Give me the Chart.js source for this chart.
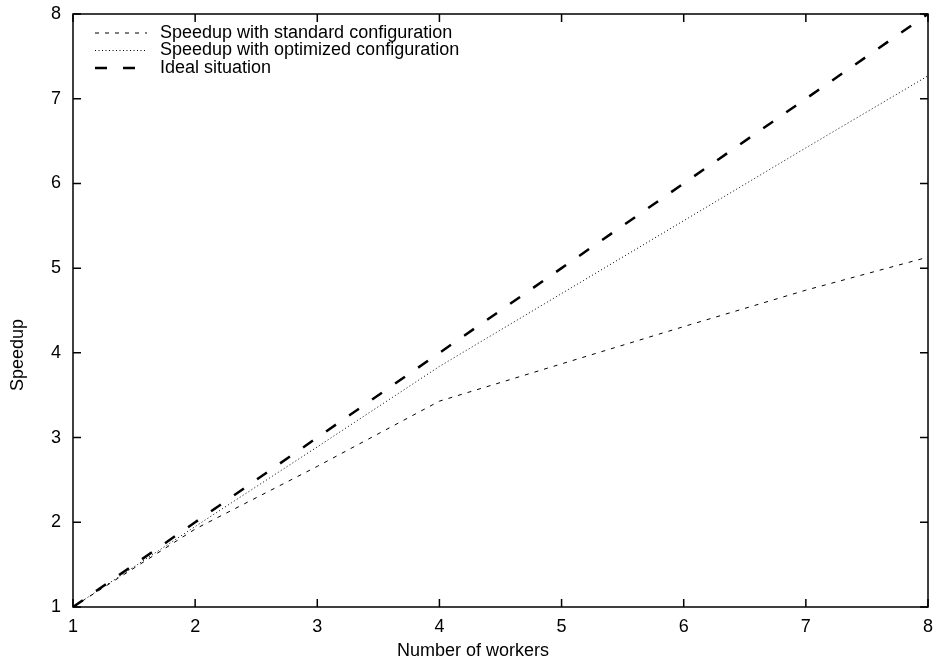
<!DOCTYPE html>
<html>
<head>
<meta charset="utf-8">
<script src="https://cdn.jsdelivr.net/npm/chart.js@4/dist/chart.umd.min.js"></script>
<style>
  html, body { margin: 0; padding: 0; background: #fff; }
  #wrap { width: 941px; height: 666px; }
</style>
</head>
<body>
<div id="wrap"><canvas id="speedupChart"></canvas></div>
<script>
// Datos
const workers = [1, 2, 3, 4, 5, 6, 7, 8];
const speedupStandard = [1, 1.92, 2.66, 3.43, 3.87, 4.31, 4.74, 5.13];
const speedupOptimized = [1, 1.95, 2.89, 3.84, 4.70, 5.56, 6.42, 7.27];
const speedupIdeal = [1, 2, 3, 4, 5, 6, 7, 8];
const tickValues = [1, 2, 3, 4, 5, 6, 7, 8];
const seriesLabels = [
    'Speedup with standard configuration',
    'Speedup with optimized configuration',
    'Ideal situation'
];
const xTitle = 'Number of workers';
const yTitle = 'Speedup';

const FONT = 'Liberation Sans, Arial, Helvetica, sans-serif';

function toPoints(ys) {
    return workers.map((x, i) => ({ x: x, y: ys[i] }));
}

// Marco y marcas hacia dentro (estilo gnuplot) + leyenda + títulos
const framePlugin = {
    id: 'frame',
    afterDraw(chart) {
        const { ctx, chartArea: a, scales } = chart;
        ctx.save();
        ctx.strokeStyle = '#000';
        ctx.lineWidth = 1.5;
        ctx.setLineDash([]);
        ctx.strokeRect(a.left, a.top, a.right - a.left, a.bottom - a.top);
        const tl = 8;
        ctx.beginPath();
        tickValues.forEach(v => {
            const px = scales.x.getPixelForValue(v);
            ctx.moveTo(px, a.bottom); ctx.lineTo(px, a.bottom - tl);
            ctx.moveTo(px, a.top); ctx.lineTo(px, a.top + tl);
            const py = scales.y.getPixelForValue(v);
            ctx.moveTo(a.left, py); ctx.lineTo(a.left + tl, py);
            ctx.moveTo(a.right, py); ctx.lineTo(a.right - tl, py);
        });
        ctx.stroke();

        // leyenda
        ctx.font = '18px ' + FONT;
        ctx.fillStyle = '#000';
        ctx.textBaseline = 'middle';
        chart.data.datasets.forEach((ds, i) => {
            const y = a.top + 19 + i * 17.5;
            ctx.beginPath();
            ctx.lineWidth = ds.borderWidth;
            ctx.setLineDash(ds.borderDash || []);
            ctx.moveTo(a.left + 22, y);
            ctx.lineTo(a.left + 74, y);
            ctx.stroke();
            ctx.setLineDash([]);
            ctx.fillText(ds.label, a.left + 87, y);
        });

        // títulos de los ejes (desplazados como en gnuplot)
        ctx.textAlign = 'center';
        ctx.fillText(xTitle, 473, 651);
        ctx.translate(18, 355);
        ctx.rotate(-Math.PI / 2);
        ctx.fillText(yTitle, 0, 0);
        ctx.restore();
    }
};

new Chart(document.getElementById('speedupChart').getContext('2d'), {
    type: 'line',
    data: {
        datasets: [
            {
                label: seriesLabels[0],
                data: toPoints(speedupStandard),
                borderColor: '#000',
                borderWidth: 1,
                borderDash: [4, 6]
            },
            {
                label: seriesLabels[1],
                data: toPoints(speedupOptimized),
                borderColor: '#000',
                borderWidth: 1,
                borderDash: [1, 2.5]
            },
            {
                label: seriesLabels[2],
                data: toPoints(speedupIdeal),
                borderColor: '#000',
                borderWidth: 2.5,
                borderDash: [12, 16]
            }
        ]
    },
    options: {
        responsive: true,
        maintainAspectRatio: false,
        animation: false,
        elements: {
            point: { radius: 0 },
            line: { tension: 0, borderCapStyle: 'butt' }
        },
        layout: { padding: { left: 0, top: 14, right: 13, bottom: 0 } },
        plugins: {
            legend: { display: false },
            tooltip: { enabled: false }
        },
        scales: {
            x: {
                type: 'linear',
                min: 1,
                max: 8,
                grid: { display: false, drawTicks: false },
                border: { display: false },
                ticks: {
                    stepSize: 1,
                    padding: 9,
                    color: '#000',
                    font: { size: 18, family: FONT }
                },
                afterFit(scale) {
                    scale.height = 59;
                    scale.paddingLeft = 0;
                    scale.paddingRight = 0;
                }
            },
            y: {
                type: 'linear',
                min: 1,
                max: 8,
                grid: { display: false, drawTicks: false },
                border: { display: false },
                ticks: {
                    stepSize: 1,
                    padding: 12,
                    color: '#000',
                    font: { size: 18, family: FONT }
                },
                afterFit(scale) {
                    scale.width = 73;
                    scale.paddingTop = 0;
                    scale.paddingBottom = 0;
                }
            }
        }
    },
    plugins: [framePlugin]
});
</script>
</body>
</html>
